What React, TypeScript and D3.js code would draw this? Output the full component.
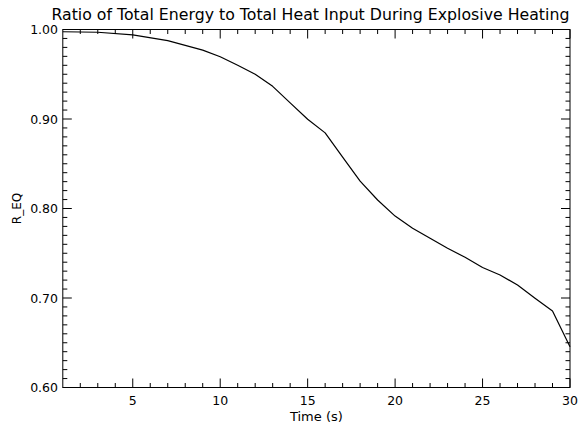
import React from "react";
import * as d3 from "d3";

// Ratio R_EQ sampled over time (s)
const times = [1, 3, 5, 7, 9, 10, 11, 12, 13, 14, 15, 16, 17, 18, 19, 20, 21, 22, 23, 24, 25, 26, 27, 28, 29, 30];
const ratios = [
  0.9975, 0.9969, 0.9939, 0.9875, 0.977, 0.9696, 0.96, 0.95, 0.9365, 0.918, 0.8997, 0.8845, 0.8575,
  0.8305, 0.8095, 0.7915, 0.778, 0.7667, 0.7555, 0.7455, 0.734, 0.7257, 0.7145, 0.6997, 0.6855, 0.6456,
];
const xMajorTicks = [5, 10, 15, 20, 25, 30];
const yMajorTicks = [0.6, 0.7, 0.8, 0.9, 1.0];

const W = 579;
const H = 423;
const left = 62.8;
const right = 570;
const top = 29.5;
const bottom = 387.5;
const FONT = "'DejaVu Sans', 'Liberation Sans', sans-serif";

export default function App() {
  const x = d3.scaleLinear().domain([1, 30]).range([left, right]);
  const y = d3.scaleLinear().domain([0.6, 1.0]).range([bottom, top]);
  const pts = times.map((t, i) => [t, ratios[i]] as [number, number]);
  const line = d3
    .line<[number, number]>()
    .x((d) => x(d[0]))
    .y((d) => y(d[1]));

  const xMinor = d3.range(2, 30).filter((v) => v % 5 !== 0);
  const yMinor = d3.range(61, 100).filter((v) => v % 10 !== 0).map((v) => v / 100);
  const majLen = 9;
  const minLen = 4.5;

  return (
    <svg
      width={W}
      height={H}
      style={{ position: "absolute", left: 0, top: 0, background: "#fff" }}
      fontFamily={FONT}
    >
      <rect x={0} y={0} width={W} height={H} fill="#fff" />
      <text x={(left + right) / 2 - 6} y={20} fontSize={15} textAnchor="middle" textLength={518} lengthAdjust="spacingAndGlyphs" fill="#000">
        Ratio of Total Energy to Total Heat Input During Explosive Heating
      </text>
      <g stroke="#000" strokeWidth={1} fill="none">
        <rect x={left} y={top} width={right - left} height={bottom - top} />
        {xMajorTicks.map((v) => (
          <g key={"xm" + v}>
            <line x1={x(v)} x2={x(v)} y1={bottom} y2={bottom - majLen} />
            <line x1={x(v)} x2={x(v)} y1={top} y2={top + majLen} />
          </g>
        ))}
        {xMinor.map((v) => (
          <g key={"xn" + v}>
            <line x1={x(v)} x2={x(v)} y1={bottom} y2={bottom - minLen} />
            <line x1={x(v)} x2={x(v)} y1={top} y2={top + minLen} />
          </g>
        ))}
        {yMajorTicks.map((v) => (
          <g key={"ym" + v}>
            <line x1={left} x2={left + majLen} y1={y(v)} y2={y(v)} />
            <line x1={right} x2={right - majLen} y1={y(v)} y2={y(v)} />
          </g>
        ))}
        {yMinor.map((v) => (
          <g key={"yn" + v}>
            <line x1={left} x2={left + minLen} y1={y(v)} y2={y(v)} />
            <line x1={right} x2={right - minLen} y1={y(v)} y2={y(v)} />
          </g>
        ))}
        <path d={line(pts) ?? ""} stroke="#000" strokeWidth={1.2} strokeLinejoin="round" />
      </g>
      <g fontSize={12.5} fill="#000">
        {xMajorTicks.map((v) => (
          <text key={"xl" + v} x={x(v)} y={405} textAnchor="middle">
            {v}
          </text>
        ))}
        {yMajorTicks.map((v) => (
          <text key={"yl" + v} x={58} y={y(v) + 4.5} textAnchor="end">
            {v.toFixed(2)}
          </text>
        ))}
        <text x={(left + right) / 2} y={421} textAnchor="middle" fontSize={13}>
          Time (s)
        </text>
        <text transform={`translate(21,${(top + bottom) / 2}) rotate(-90)`} textAnchor="middle" fontSize={12}>
          R_EQ
        </text>
      </g>
    </svg>
  );
}
